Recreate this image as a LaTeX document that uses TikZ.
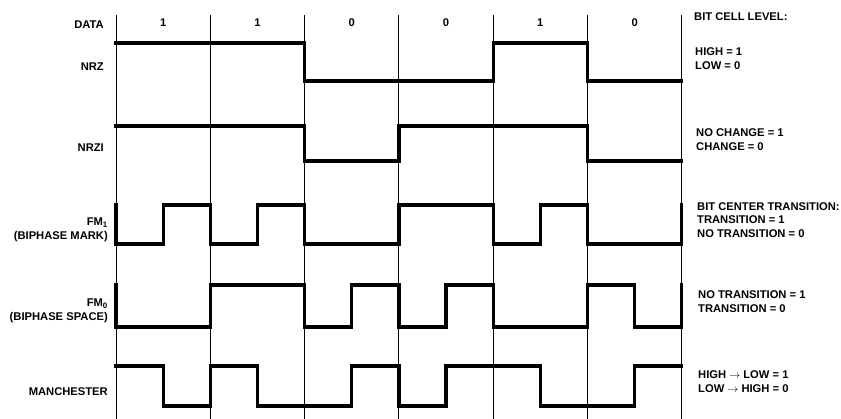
\documentclass[tikz,border=0pt]{standalone}
\usepackage{fontspec}
\setmainfont{Liberation Sans}
\usetikzlibrary{positioning}

\begin{document}
\begin{tikzpicture}[x=1pt,y=-1pt,
  lbl/.style={font=\fontsize{11.2}{13.8}\selectfont\bfseries,inner sep=0pt},
  lname/.style={lbl,anchor=east,align=right},
  rule/.style={lbl,anchor=west,align=left},
  grid/.style={line width=1pt},
  sig/.style={line width=3.2pt,line join=miter,line cap=rect}]
\useasboundingbox (0,0) rectangle (841,419);
% row names
\node[lname] (data) at (104,25) {DATA};
\node[lname] (nrz) at (104,67) {NRZ};
\node[lname] (nrzi) at (104,148) {NRZI};
\node[lname] (fmone) at (108,230) {FM\textsubscript{1}\\(BIPHASE MARK)};
\node[lname] (fmzero) at (108,311) {FM\textsubscript{0}\\(BIPHASE SPACE)};
\node[lname] (manch) at (108,392) {MANCHESTER};
% encoding rules
\node[rule] (cell) at (694,17) {BIT CELL LEVEL:};
\node[rule] (rnrz) at (695,58.5) {HIGH = 1\\LOW = 0};
\node[rule] (rnrzi) at (696,139.5) {NO CHANGE = 1\\CHANGE = 0};
\node[rule] (rfmone) at (697,220) {BIT CENTER TRANSITION:\\TRANSITION = 1\\NO TRANSITION = 0};
\node[rule] (rfmzero) at (698,301.5) {NO TRANSITION = 1\\TRANSITION = 0};
\node[rule] (rmanch) at (698,382) {HIGH $\rightarrow$ LOW = 1\\LOW $\rightarrow$ HIGH = 0};
% waveforms, x in half bit cells
\begin{scope}[xshift=116pt,x=47.15pt]
\foreach \i in {0,2,...,12}
  \draw[grid] (\i,15) -- (\i,419);
\foreach \b [count=\k] in {1,1,0,0,1,0}
  \node[lbl] (d\k) at ({2*\k-1},23) {\b};
% NRZ
\draw[sig] (0,43) -- (4,43) -- (4,81) -- (8,81) -- (8,43) -- (10,43) -- (10,81) -- (12,81);
% NRZI
\draw[sig] (0,126) -- (4,126) -- (4,161) -- (6,161) -- (6,126) -- (10,126) -- (10,161) -- (12,161);
% FM1
\draw[sig] (0,205) -- (0,244) -- (1,244) -- (1,205) -- (2,205) -- (2,244) -- (3,244) -- (3,205)
  -- (4,205) -- (4,244) -- (6,244) -- (6,205) -- (8,205) -- (8,244) -- (9,244) -- (9,205)
  -- (10,205) -- (10,244) -- (12,244) -- (12,205);
% FM0
\draw[sig] (0,285) -- (0,327) -- (2,327) -- (2,285) -- (4,285) -- (4,327) -- (5,327) -- (5,285)
  -- (6,285) -- (6,327) -- (7,327) -- (7,285) -- (8,285) -- (8,327) -- (10,327) -- (10,285)
  -- (11,285) -- (11,327) -- (12,327) -- (12,285);
% Manchester
\draw[sig] (0,366) -- (1,366) -- (1,406) -- (2,406) -- (2,366) -- (3,366) -- (3,406) -- (5,406)
  -- (5,366) -- (6,366) -- (6,406) -- (7,406) -- (7,366) -- (9,366) -- (9,406) -- (11,406)
  -- (11,366) -- (12,366);
\end{scope}
\end{tikzpicture}
\end{document}
